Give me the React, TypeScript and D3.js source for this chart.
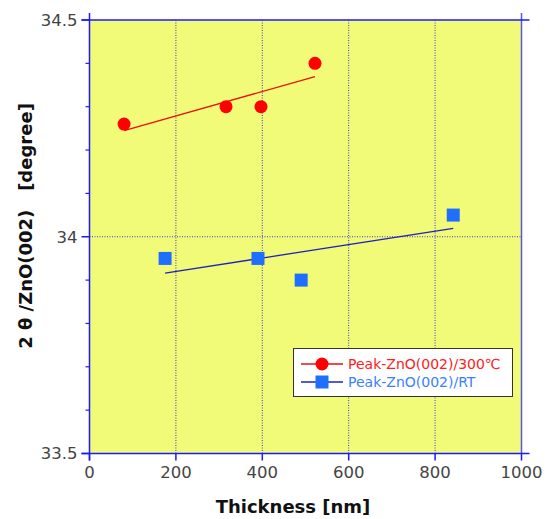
import React from "react";
import * as d3 from "d3";

const hotThickness = [80, 316, 397, 522];
const hotPeak = [34.26, 34.3, 34.3, 34.4];
const rtThickness = [175, 390, 490, 842];
const rtPeak = [33.95, 33.95, 33.9, 34.05];
const xTicks = [0, 200, 400, 600, 800, 1000];
const yTicks = [33.5, 34, 34.5];
const yMinorTicks = [33.6, 33.7, 33.8, 33.9, 34.1, 34.2, 34.3, 34.4];
const seriesNames = ["Peak-ZnO(002)/300℃", "Peak-ZnO(002)/RT"];

function fit(xs: number[], ys: number[]) {
  const mx = d3.mean(xs)!;
  const my = d3.mean(ys)!;
  let sxy = 0, sxx = 0;
  xs.forEach((x, i) => {
    sxy += (x - mx) * (ys[i] - my);
    sxx += (x - mx) * (x - mx);
  });
  const b = sxy / sxx;
  const a = my - b * mx;
  const x0 = d3.min(xs)!;
  const x1 = d3.max(xs)!;
  return [[x0, a + b * x0], [x1, a + b * x1]] as [number, number][];
}

export default function App() {
  const W = 550, H = 519;
  const L = 89.5, R = 521.5, T = 20, B = 453.5;
  const x = d3.scaleLinear().domain([0, 1000]).range([L, R]);
  const y = d3.scaleLinear().domain([33.5, 34.5]).range([B, T]);
  const line = d3.line<[number, number]>().x(d => x(d[0])).y(d => y(d[1]));
  const hotFit = fit(hotThickness, hotPeak);
  const rtFit = fit(rtThickness, rtPeak);
  const font = "'DejaVu Sans', Verdana, sans-serif";
  const axisColor = "#1a1aff";
  const red = "#ff0000";
  const blue = "#1f6fff";
  const ms = 13;

  return (
    <svg width={W} height={H} style={{ position: "absolute", left: 0, top: 0 }} fontFamily={font}>
      <rect x={0} y={0} width={W} height={H} fill="#ffffff" />
      <rect x={L} y={T} width={R - L} height={B - T} fill="#f2fb78" />
      {/* gridlines */}
      {xTicks.filter(t => t > 0 && t < 1000).map(t => (
        <line key={"gx" + t} x1={x(t)} x2={x(t)} y1={T} y2={B} stroke="#3a3ad0" strokeWidth={1} strokeDasharray="1,1.5" />
      ))}
      <line x1={L} x2={R} y1={y(34)} y2={y(34)} stroke="#3a3ad0" strokeWidth={1} strokeDasharray="1,1.5" />
      {/* frame */}
      <line x1={L} x2={L} y1={T - 7} y2={B + 7} stroke={axisColor} strokeWidth={1.5} />
      <line x1={R} x2={R} y1={T - 7} y2={B} stroke="#5555ee" strokeWidth={1.5} />
      <line x1={L - 8} x2={R + 8} y1={T} y2={T} stroke={axisColor} strokeWidth={1.5} />
      <line x1={L - 8} x2={R + 8} y1={B} y2={B} stroke={axisColor} strokeWidth={1.5} />
      {/* y ticks */}
      {yTicks.map(t => (
        <g key={"yt" + t}>
          <line x1={L - 8} x2={L} y1={y(t)} y2={y(t)} stroke={axisColor} strokeWidth={1.5} />
          <text x={L - 12} y={y(t)} dy="0.36em" textAnchor="end" fontSize={16.5} fill="#444">{d3.format("")(t)}</text>
        </g>
      ))}
      {yMinorTicks.map(t => (
        <line key={"ym" + t} x1={L - 4} x2={L} y1={y(t)} y2={y(t)} stroke={axisColor} strokeWidth={1.2} />
      ))}
      {/* x ticks */}
      {xTicks.map(t => (
        <g key={"xt" + t}>
          <line x1={x(t)} x2={x(t)} y1={B} y2={B + 7} stroke={axisColor} strokeWidth={1.5} />
          <text x={x(t)} y={B + 24} textAnchor="middle" fontSize={16.5} fill="#444">{t}</text>
        </g>
      ))}
      {/* fit lines */}
      <path d={line(hotFit)!} stroke="#e81010" strokeWidth={1.3} fill="none" />
      <path d={line(rtFit)!} stroke="#2020c0" strokeWidth={1.3} fill="none" />
      {/* markers */}
      {hotThickness.map((t, i) => (
        <circle key={"h" + i} cx={x(t)} cy={y(hotPeak[i])} r={ms / 2} fill={red} />
      ))}
      {rtThickness.map((t, i) => (
        <rect key={"r" + i} x={x(t) - ms / 2} y={y(rtPeak[i]) - ms / 2} width={ms} height={ms} fill={blue} />
      ))}
      {/* legend */}
      <rect x={293.5} y={348.5} width={219} height={48} fill="#ffffff" stroke="#333" strokeWidth={1} />
      <line x1={301} x2={343} y1={364} y2={364} stroke="#e81010" strokeWidth={1.3} />
      <circle cx={322} cy={364} r={6.5} fill={red} />
      <text x={348} y={364} dy="0.36em" fontSize={14} fill="#ff2020">{seriesNames[0]}</text>
      <line x1={301} x2={343} y1={382} y2={382} stroke="#2020c0" strokeWidth={1.3} />
      <rect x={322 - 6.5} y={382 - 6.5} width={13} height={13} fill={blue} />
      <text x={348} y={382} dy="0.36em" fontSize={14} fill="#3a80ff">{seriesNames[1]}</text>
      {/* axis titles */}
      <text x={293} y={513} textAnchor="middle" fontSize={18} fontWeight="bold" fill="#111">Thickness [nm]</text>
      <text transform={`translate(32, 226) rotate(-90)`} textAnchor="middle" fontSize={18} fontWeight="bold" fill="#111" style={{ whiteSpace: "pre" }}>{"2 θ /ZnO(002)   [degree]"}</text>
    </svg>
  );
}
